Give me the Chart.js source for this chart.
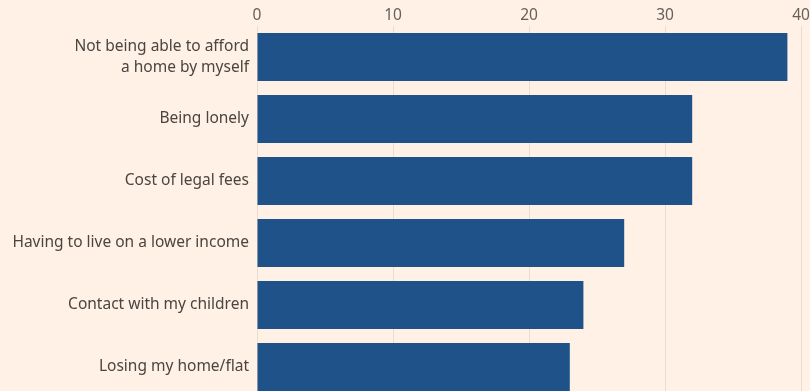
<!DOCTYPE html>
<html>
<head>
<meta charset="utf-8">
<script src="https://cdn.jsdelivr.net/npm/chart.js@4/dist/chart.umd.min.js"></script>
<style>
  html, body { margin: 0; padding: 0; background: #FFF1E5; overflow: hidden; }
  #wrap { position: relative; width: 810px; height: 400px; }
</style>
</head>
<body>
<div id="wrap"><canvas id="c" width="810" height="400"></canvas></div>
<script>
const categories = [
  ["Not being able to afford", "a home by myself"],
  "Being lonely",
  "Cost of legal fees",
  "Having to live on a lower income",
  "Contact with my children",
  "Losing my home/flat"
];
const values = [39, 32, 32, 27, 24, 23];
const tickValues = [0, 10, 20, 30, 40];

new Chart(document.getElementById('c'), {
  type: 'bar',
  data: {
    labels: categories,
    datasets: [{
      data: values,
      backgroundColor: '#1E5288',
      borderWidth: 0,
      categoryPercentage: 1,
      barPercentage: 0.775
    }]
  },
  options: {
    indexAxis: 'y',
    responsive: false,
    animation: false,
    layout: { padding: { right: 9, bottom: 2, top: 0, left: 0 } },
    plugins: { legend: { display: false }, tooltip: { enabled: false } },
    scales: {
      x: {
        position: 'top',
        min: 0, max: 40,
        afterBuildTicks(scale) { scale.ticks = tickValues.map(v => ({ value: v })); },
        afterFit(scale) { scale.height = 26; scale.paddingLeft = 0; scale.paddingRight = 0; },
        grid: { color: '#E9DCD1', lineWidth: 1, drawTicks: false },
        border: { display: false },
        ticks: {
          color: '#66605C',
          font: { family: 'Noto Sans', size: 15.5 },
          padding: 1
        }
      },
      y: {
        afterFit(scale) { scale.width = 257; scale.paddingTop = 0; scale.paddingBottom = 0; },
        grid: { display: false, drawTicks: false },
        border: { display: false },
        ticks: {
          color: '#4A4541',
          font: { family: 'Noto Sans', size: 15.5, lineHeight: 1.35 },
          padding: 8
        }
      }
    }
  }
});
</script>
</body>
</html>
